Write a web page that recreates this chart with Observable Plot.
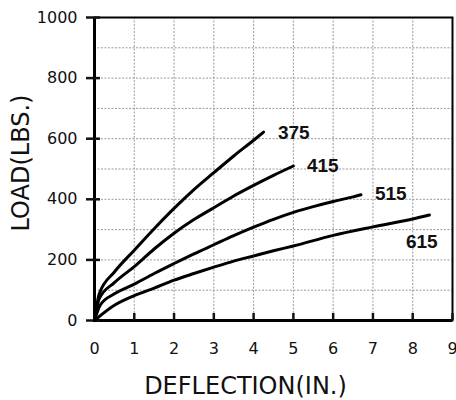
<!DOCTYPE html>
<html>
<head>
<meta charset="utf-8">
<script src="https://cdn.jsdelivr.net/npm/d3@7"></script>
<script src="https://cdn.jsdelivr.net/npm/@observablehq/plot@0.6"></script>
<style>
  html, body { margin: 0; padding: 0; background: #fff; }
  #chart svg { display: block; }
</style>
</head>
<body>
<div id="chart"></div>
<script>
// Series values (deflection in inches, load in lbs)
const defl375 = [0, 0.12, 0.5, 1, 1.5, 2, 2.5, 3, 3.5, 4, 4.25];
const load375 = [0, 88, 160, 232, 303, 370, 432, 488, 543, 595, 622];

const defl415 = [0, 0.12, 0.5, 1, 1.5, 2, 2.5, 3, 3.5, 4, 4.5, 5];
const load415 = [0, 72, 125, 178, 236, 288, 333, 372, 411, 446, 479, 510];

const defl515 = [0, 0.15, 0.5, 1, 1.5, 2, 2.5, 3, 3.5, 4, 4.5, 5, 5.5, 6, 6.5, 6.7];
const load515 = [0, 52, 88, 120, 155, 188, 220, 250, 280, 308, 334, 357, 376, 393, 408, 415];

const defl615 = [0, 0.5, 1, 1.5, 2, 2.5, 3, 3.5, 4, 4.5, 5, 6, 7, 8, 8.42];
const load615 = [0, 50, 82, 107, 133, 155, 176, 196, 213, 230, 246, 281, 309, 335, 348];

const seriesNames = ["375", "415", "515", "615"];
const labelX = [4.61, 5.34, 7.05, 7.83];
const labelY = [620, 511, 419, 260];

const xTicks = [0, 1, 2, 3, 4, 5, 6, 7, 8, 9];
const yTicks = [0, 200, 400, 600, 800, 1000];
const xGrid = [1, 2, 3, 4, 5, 6, 7, 8];
const yGrid = [100, 200, 300, 400, 500, 600, 700, 800, 900];

const xs = [defl375, defl415, defl515, defl615];
const ys = [load375, load415, load515, load615];
const rows = seriesNames.flatMap((name, i) =>
  xs[i].map((d, j) => ({series: name, deflection: d, load: ys[i][j]})));
const labels = seriesNames.map((name, i) => ({name, x: labelX[i], y: labelY[i]}));

const plot = Plot.plot({
  width: 456,
  height: 400,
  marginLeft: 94,
  marginRight: 4,
  marginTop: 17,
  marginBottom: 80,
  style: {fontFamily: "DejaVu Sans", fontSize: "16px", color: "#111", background: "#fff", overflow: "visible"},
  x: {domain: [0, 9]},
  y: {domain: [0, 1000]},
  marks: [
    Plot.gridX(xGrid, {stroke: "#999", strokeOpacity: 1, strokeWidth: 1, strokeDasharray: "2,1.5"}),
    Plot.gridY(yGrid, {stroke: "#999", strokeOpacity: 1, strokeWidth: 1, strokeDasharray: "2,1.5"}),
    Plot.frame({stroke: "black", strokeWidth: 2}),
    Plot.ruleX([0], {stroke: "black", strokeWidth: 3}),
    Plot.ruleY([0], {stroke: "black", strokeWidth: 3}),
    Plot.axisY(yTicks, {tickSize: 8, tickPadding: 9, strokeWidth: 2.5, label: null, fontSize: 16, fill: "#111", tickFormat: d3.format("d")}),
    Plot.axisY(yTicks, {tickSize: 6, dx: 6, text: null, strokeWidth: 2.5, label: null}),
    Plot.axisX(xTicks, {tickSize: 0, tickPadding: 22, label: null, fontSize: 16, fill: "#111", tickFormat: d3.format("d")}),
    Plot.axisX(xTicks, {tickSize: 7, dy: -7, text: null, strokeWidth: 2.5, label: null}),
    Plot.line(rows, {x: "deflection", y: "load", z: "series", stroke: "black", strokeWidth: 3, curve: "monotone-x"}),
    Plot.text(labels, {x: "x", y: "y", text: "name", textAnchor: "start", fontFamily: "Liberation Sans, Arial, sans-serif", fontWeight: "bold", fontSize: 19, fill: "#111"}),
    Plot.text(["LOAD(LBS.)"], {frameAnchor: "left", textAnchor: "middle", lineAnchor: "middle", dx: -73, dy: -6, rotate: -90, fontSize: 24, fill: "#111"}),
    Plot.text(["DEFLECTION(IN.)"], {frameAnchor: "bottom", textAnchor: "middle", lineAnchor: "middle", dx: -28, dy: 66, fontSize: 24, fill: "#111"})
  ]
});
document.getElementById("chart").appendChild(plot);
</script>
</body>
</html>
